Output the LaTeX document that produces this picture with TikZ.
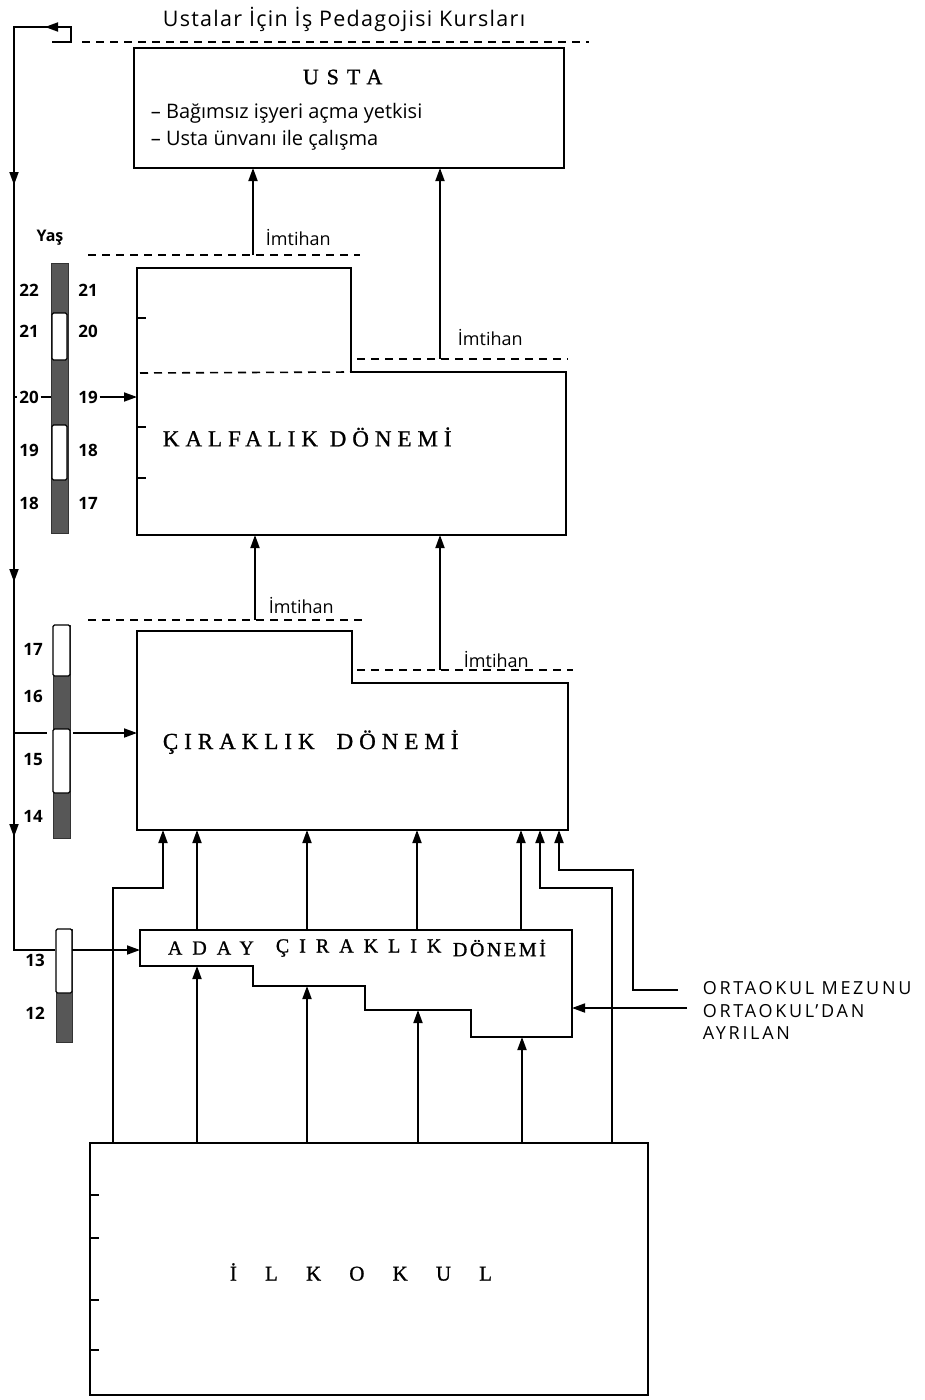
\documentclass[tikz,border=0pt]{standalone}
\usepackage{fontspec}
\setmainfont{Liberation Serif}
\newfontfamily\labfont{Open Sans}
\newfontfamily\titfont[LetterSpace=6]{Open Sans}
\newfontfamily\capfont[LetterSpace=15]{Open Sans}
\newfontfamily\spA[LetterSpace=26,FakeBold=1]{Liberation Serif}
\newfontfamily\spB[LetterSpace=36,FakeBold=1]{Liberation Serif}
\newfontfamily\spC[LetterSpace=134,FakeBold=1]{Liberation Serif}
\newfontfamily\spD[LetterSpace=50,FakeBold=1]{Liberation Serif}
\newfontfamily\spE[LetterSpace=13,FakeBold=1]{Liberation Serif}
\usetikzlibrary{arrows.meta}
\begin{document}
\begin{tikzpicture}[x=1pt,y=-1pt,
  line width=1.8pt, line cap=butt, line join=miter,
  box/.style={line width=2.4pt},
  dsh/.style={line width=1.6pt, dash pattern=on 8pt off 6pt},
  arr/.style={-{Triangle[length=13pt,width=9pt]}},
  tiparrow/.style={-{Triangle[length=13pt,width=9pt]}},
  lab/.style={font=\labfont\fontsize{18}{21}\selectfont, inner sep=0pt},
  capslab/.style={font=\capfont\fontsize{18}{21}\selectfont, inner sep=0pt, anchor=west},
  num/.style={font=\labfont\bfseries\fontsize{17}{20}\selectfont, inner sep=1pt},
  ttl/.style={inner sep=0pt, anchor=west},
  darkbar/.style={fill=black!66, draw=black!80, line width=1pt},
  whitebar/.style={fill=white, draw=black, line width=1.3pt, rounded corners=1.5pt},
]
\useasboundingbox (0,0) rectangle (924,1400);
\fill[white] (0,0) rectangle (924,1400);

% ---------- title and top dashed line
\node[inner sep=0pt, font=\titfont\fontsize{21.5}{24}\selectfont, anchor=west] (title) at (162,19) {Ustalar İçin İş Pedagojisi Kursları};
\coordinate (d0a) at (82,42); \coordinate (d0b) at (589,42);
\draw[dsh] (d0a) -- (d0b);

% ---------- left feedback line
\coordinate (br1) at (52,42); \coordinate (br2) at (71,42); \coordinate (br3) at (71,27);
\coordinate (lt) at (14,27); \coordinate (lb) at (14,950); \coordinate (l13) at (55,950);
\draw (br1) -- (br2) -- (br3) -- (lt) -- (lb) -- (l13);
\coordinate (ta1) at (66,27); \coordinate (ta2) at (45,27);
\draw[tiparrow] (ta1) -- (ta2);
\foreach \yy/\nm in {168/a,565/b,820/c}{
  \coordinate (v\nm1) at (14,\yy); \coordinate (v\nm2) at (14,\yy+17);
  \draw[tiparrow] (v\nm1) -- (v\nm2);
}

% ---------- USTA
\coordinate (u1) at (134,48); \coordinate (u2) at (564,168);
\draw[box] (u1) rectangle (u2);
\node[ttl, font=\spB\fontsize{22}{25}\selectfont] (ustaT) at (302,77) {USTA};
\node[lab, anchor=west, font=\labfont\fontsize{20}{23}\selectfont] (b1) at (150,113) {– Bağımsız işyeri açma yetkisi};
\node[lab, anchor=west, font=\labfont\fontsize{20}{23}\selectfont] (b2) at (150,140) {– Usta ünvanı ile çalışma};

% ---------- KALFALIK
\coordinate (k1) at (137,268); \coordinate (k2) at (351,268); \coordinate (k3) at (351,372);
\coordinate (k4) at (566,372); \coordinate (k5) at (566,535); \coordinate (k6) at (137,535);
\draw[box] (k1) -- (k2) -- (k3) -- (k4) -- (k5) -- (k6) -- cycle;
\coordinate (kd1) at (140,373);
\draw[dsh] (kd1) -- (k3);
\foreach \yy in {318,427,478}{ \draw (137,\yy) -- (146,\yy); }
\node[ttl, font=\spA\fontsize{23}{26}\selectfont] (kalT) at (162,437) {KALFALIK DÖNEMİ};

\coordinate (d1a) at (88,255); \coordinate (d1b) at (360,255);
\coordinate (d2a) at (357,359); \coordinate (d2b) at (568,359);
\draw[dsh] (d1a) -- (d1b);
\draw[dsh] (d2a) -- (d2b);
\coordinate (e1) at (253,255); \coordinate (e1t) at (253,168);
\coordinate (e2) at (440,359); \coordinate (e2t) at (440,168);
\draw[arr] (e1) -- (e1t);
\draw[arr] (e2) -- (e2t);
\node[lab, anchor=west] (im1) at (265,237) {İmtihan};
\node[lab, anchor=west] (im2) at (457,337) {İmtihan};

% ---------- CIRAKLIK
\coordinate (c1) at (137,631); \coordinate (c2) at (352,631); \coordinate (c3) at (352,683);
\coordinate (c4) at (568,683); \coordinate (c5) at (568,830); \coordinate (c6) at (137,830);
\draw[box] (c1) -- (c2) -- (c3) -- (c4) -- (c5) -- (c6) -- cycle;
\node[ttl, font=\spA\fontsize{23}{26}\selectfont] (cirT) at (162,742) {ÇIRAKLIK\hspace{22pt}DÖNEMİ};

\coordinate (d3a) at (88,620); \coordinate (d3b) at (362,620);
\coordinate (d4a) at (357,670); \coordinate (d4b) at (573,670);
\draw[dsh] (d3a) -- (d3b);
\draw[dsh] (d4a) -- (d4b);
\coordinate (e3) at (255,620); \coordinate (e3t) at (255,535);
\coordinate (e4) at (440,670); \coordinate (e4t) at (440,535);
\draw[arr] (e3) -- (e3t);
\draw[arr] (e4) -- (e4t);
\node[lab, anchor=west] (im3) at (268,605) {İmtihan};
\node[lab, anchor=west] (im4) at (463,659) {İmtihan};

% ---------- ADAY
\coordinate (a1) at (140,930); \coordinate (a2) at (572,930); \coordinate (a3) at (572,1037);
\coordinate (a4) at (471,1037); \coordinate (a5) at (471,1010); \coordinate (a6) at (365,1010);
\coordinate (a7) at (365,986); \coordinate (a8) at (253,986); \coordinate (a9) at (253,966);
\coordinate (a10) at (140,966);
\draw[box] (a1) -- (a2) -- (a3) -- (a4) -- (a5) -- (a6) -- (a7) -- (a8) -- (a9) -- (a10) -- cycle;
\node[ttl, font=\spD\fontsize{20}{23}\selectfont] (adA) at (167,948) {ADAY};
\node[ttl, font=\spD\fontsize{20}{23}\selectfont] (adB) at (275,948) {ÇIRAKLIK};
\node[ttl, font=\spE\fontsize{20}{23}\selectfont] (adC) at (452,948) {DÖNEMİ};

% ---------- ILKOKUL
\coordinate (i1) at (90,1143); \coordinate (i2) at (648,1395);
\draw[box] (i1) rectangle (i2);
\foreach \yy in {1195,1238,1300,1350}{ \draw (90,\yy) -- (99,\yy); }
\node[ttl, font=\spC\fontsize{21}{24}\selectfont] (ilkT) at (229,1272) {İLKOKUL};

% ---------- arrows ADAY -> CIRAKLIK
\foreach \xx in {197,307,417,521}{
  \coordinate (up\xx) at (\xx,930); \coordinate (upt\xx) at (\xx,830);
  \draw[arr] (up\xx) -- (upt\xx);
}
% ---------- arrows ILKOKUL -> ADAY
\foreach \xx/\yt in {197/966,307/986,418/1010,522/1037}{
  \coordinate (lo\xx) at (\xx,1143); \coordinate (lot\xx) at (\xx,\yt);
  \draw[arr] (lo\xx) -- (lot\xx);
}
% left bypass
\coordinate (p1) at (113,1143); \coordinate (p2) at (113,888); \coordinate (p3) at (163,888); \coordinate (p4) at (163,830);
\draw[arr] (p1) -- (p2) -- (p3) -- (p4);
% right bypass
\coordinate (q1) at (612,1143); \coordinate (q2) at (612,888); \coordinate (q3) at (540,888); \coordinate (q4) at (540,830);
\draw[arr] (q1) -- (q2) -- (q3) -- (q4);
% ortaokul mezunu
\coordinate (m1) at (678,990); \coordinate (m2) at (633,990); \coordinate (m3) at (633,870); \coordinate (m4) at (559,870); \coordinate (m5) at (559,830);
\draw[arr] (m1) -- (m2) -- (m3) -- (m4) -- (m5);
% ortaokuldan ayrilan
\coordinate (o1) at (687,1008); \coordinate (o2) at (572,1008);
\draw[arr] (o1) -- (o2);
\node[capslab] (om) at (702,988) {ORTAOKUL MEZUNU};
\node[capslab] (oa) at (702,1011) {ORTAOKUL’DAN};
\node[capslab] (ob) at (702,1033) {AYRILAN};

% ---------- age bar 1
\node[lab, font=\labfont\bfseries\fontsize{16}{19}\selectfont] (yas) at (50,238) {Yaş};
\fill[darkbar] (51,263) rectangle (68,533);
\draw[whitebar] (52,313) rectangle (67,360);
\draw[whitebar] (52,425) rectangle (67,480);
\foreach \yy/\l/\r in {290/22/21,331/21/20,450/19/18,503/18/17}{
  \node[num] at (29,\yy) {\l};
  \node[num] at (88,\yy) {\r};
}
\node[num] (n20) at (29,397) {20};
\node[num] (n19) at (88,397) {19};
\coordinate (g1) at (14,397); \coordinate (g2) at (51,397); \coordinate (g3) at (137,397);
\draw (g1) -- (n20.west);
\draw (n20.east) -- (g2);
\draw[arr] (n19.east) -- (g3);

% ---------- age bar 2
\fill[darkbar] (53,625) rectangle (70,838);
\draw[whitebar] (53,625) rectangle (70,676);
\draw[whitebar] (53,729) rectangle (70,793);
\foreach \yy/\l in {649/17,696/16,760/15,816/14}{ \node[num] at (33,\yy) {\l}; }
\coordinate (h1) at (14,733); \coordinate (h2) at (47,733);
\coordinate (h3) at (73,733); \coordinate (h4) at (137,733);
\draw (h1) -- (h2);
\draw[arr] (h3) -- (h4);

% ---------- age bar 3
\fill[darkbar] (56,929) rectangle (72,1042);
\draw[whitebar] (56,929) rectangle (72,993);
\node[num] at (35,960) {13};
\node[num] at (35,1013) {12};
\coordinate (j1) at (72,950); \coordinate (j2) at (140,950);
\draw[arr] (j1) -- (j2);
\end{tikzpicture}
\end{document}
